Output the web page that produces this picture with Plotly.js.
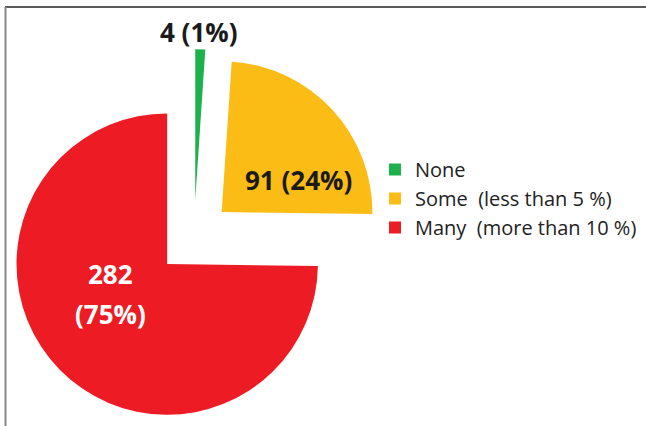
<!DOCTYPE html>
<html>
<head>
<meta charset="utf-8">
<script src="https://cdn.plot.ly/plotly-3.0.1.min.js"></script>
<style>html,body{margin:0;padding:0;background:#fff;}#chart{width:646px;height:426px;}</style>
</head>
<body>
<div id="chart"></div>
<script>
const categories = ["None", "Some\u00a0\u00a0(less than 5 %)", "Many\u00a0\u00a0(more than 10 %)"];
const counts = [4, 91, 282];
const percents = ["1%", "24%", "75%"];
const colors = ["#1db14b", "#fbbc15", "#ed1c24"];

const W = 646, H = 426;
const px = x => x / W;
const py = y => 1 - y / H;

const trace = {
  type: "pie",
  labels: categories,
  values: counts,
  sort: false,
  direction: "clockwise",
  rotation: 0,
  pull: [0.25, 0.25, 0.25],
  marker: { colors: colors, line: { width: 0 } },
  textinfo: "none",
  hoverinfo: "label+value",
  domain: { x: [px(5.25), px(382.75)], y: [0, py(49.25)] },
  showlegend: true
};

const fontB = "Open Sans, Noto Sans, sans-serif";
const annotations = [
  { x: px(199), y: py(32), text: counts[0] + " (" + percents[0] + ")", color: "#1a1a1a" },
  { x: px(298), y: py(180), text: counts[1] + " (" + percents[1] + ")", color: "#1a1a1a" },
  { x: px(110), y: py(274), text: String(counts[2]), color: "#ffffff" },
  { x: px(110), y: py(314), text: "(" + percents[2] + ")", color: "#ffffff" }
].map(a => ({
  x: a.x, y: a.y, xref: "paper", yref: "paper", xanchor: "center", yanchor: "middle",
  text: "<b>" + a.text + "</b>", showarrow: false,
  font: { family: fontB, size: 26, color: a.color }
}));

const layout = {
  width: W, height: H,
  margin: { l: 0, r: 0, t: 0, b: 0 },
  paper_bgcolor: "#ffffff",
  showlegend: true,
  legend: {
    x: px(375), y: py(150), xanchor: "left", yanchor: "top",
    font: { family: "Open Sans, Noto Sans, sans-serif", size: 20, color: "#222" },
    bgcolor: "rgba(0,0,0,0)", traceorder: "normal"
  },
  annotations: annotations,
  shapes: [
    { type: "line", xref: "paper", yref: "paper", x0: px(5), x1: 1, y0: py(7), y1: py(7), line: { color: "#222", width: 1.5 } },
    { type: "line", xref: "paper", yref: "paper", x0: px(5.5), x1: px(5.5), y0: py(7), y1: 0, line: { color: "#888", width: 2 } }
  ]
};

Plotly.newPlot("chart", [trace], layout, { displayModeBar: false, staticPlot: true });
</script>
</body>
</html>
